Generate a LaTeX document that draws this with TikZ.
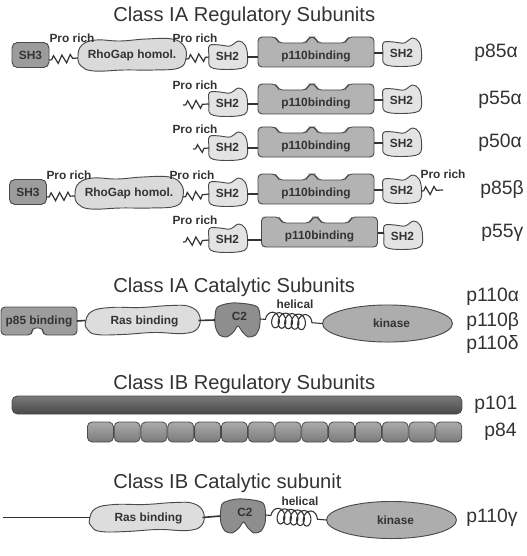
\documentclass[tikz,border=0pt]{standalone}
\usepackage{fontspec}
\setmainfont{Liberation Sans}
\usetikzlibrary{decorations.pathmorphing,shapes.geometric}

\definecolor{txt}{HTML}{333333}
\definecolor{edge}{HTML}{4A4A4A}
\definecolor{lnk}{HTML}{333333}
\definecolor{shthreecol}{HTML}{9C9C9C}
\definecolor{rhocol}{HTML}{DADADA}
\definecolor{shtwocol}{HTML}{E3E3E3}
\definecolor{pbcol}{HTML}{B3B3B3}
\definecolor{pebcol}{HTML}{9D9D9D}
\definecolor{rascol}{HTML}{DDDDDD}
\definecolor{ctwocol}{HTML}{8E8E8E}
\definecolor{kincol}{HTML}{ADADAD}

\tikzset{
 dom/.style={draw=edge, line width=0.7pt},
 dtext/.style={font=\fontsize{8.9}{10}\selectfont\bfseries, text=txt, inner sep=0pt},
 titletext/.style={font=\fontsize{15.1}{18}\selectfont, text=txt, inner sep=0pt, anchor=base west},
 plabel/.style={font=\fontsize{14.5}{17}\selectfont, text=txt, inner sep=0pt, anchor=west},
 link/.style={draw=lnk, line width=1.2pt},
 prolink/.style={draw=lnk, line width=0.9pt, decorate, decoration={zigzag, amplitude=3pt, segment length=6.3pt, pre length=2pt, post length=2pt}},
 helix/.style={draw=lnk, line width=0.8pt, decorate, decoration={coil, amplitude=5.8pt, segment length=4.9pt, aspect=0.7, pre length=4pt, post length=4pt}},
 bar/.style={draw=edge, line width=0.6pt, rounded corners=4pt},
 pics/shthree/.style={code={
   \draw[dom, fill=shthreecol, rounded corners=4pt] (-18.5,-12.5) rectangle (18.5,12.5);
   \node[dtext] (-t) {SH3};
   \coordinate (-w) at (-18.5,0);
   \coordinate (-e) at (18.5,5);
 }},
 pics/rhogap/.style={code={
   \draw[dom, fill=rhocol] plot[smooth cycle, tension=0.7] coordinates {(-54,1) (-50,-10) (-36,-15) (-12,-14) (14,-16) (40,-16) (52,-9) (54,3) (47,13) (22,15) (-8,15) (-38,16) (-51,11)};
   \node[dtext] (-t) {RhoGap homol.};
   \coordinate (-w) at (-54,3);
   \coordinate (-e) at (54,4);
 }},
 pics/shtwo/.style={code={
   \draw[dom, fill=shtwocol] plot[smooth cycle, tension=0.6] coordinates {(-18,-9.5) (-7.5,-10) (2.5,-9) (11,-14) (17.5,-10) (20,0.5) (17.5,12) (-1,14.5) (-17,12) (-18.5,1)};
   \node[dtext] (-t) at (0,1) {SH2};
   \coordinate (-w) at (-18.5,2);
   \coordinate (-e) at (19.5,2);
 }},
 pics/pbind/.style={code={
   \draw[dom, fill=pbcol, rounded corners=3pt] (0,15) -- (-58,15) -- (-58,-15) -- (-40,-15) -- (-37.5,-9) -- (-9.5,-9) -- (-7,-15) -- (-1,-15) -- (1.5,-9) -- (29.5,-9) -- (32,-15) -- (58,-15) -- (58,15) -- cycle;
   \node[dtext] (-t) at (0,4) {p110binding};
   \coordinate (-w) at (-58,0);
   \coordinate (-e) at (58,1);
 }},
 pics/pebind/.style={code={
   \draw[dom, fill=pebcol, rounded corners=3pt] (0,-14) -- (38,-14) -- (38,14) -- (4,14) -- (4,7) -- (-7,7) -- (-7,14) -- (-38,14) -- (-38,-14) -- cycle;
   \node[dtext] (-t) at (0,0) {p85 binding};
   \coordinate (-w) at (-38,0);
   \coordinate (-e) at (38,0);
 }},
 pics/ras/.style={code={
   \draw[dom, fill=rascol] plot[smooth cycle, tension=0.7] coordinates {(-57,2) (-51,-9) (-32,-13) (-2,-13) (28,-15) (47,-14) (57,-5) (55,8) (41,13) (12,12) (-20,14) (-46,14) (-55,9)};
   \node[dtext] (-t) at (2,1) {Ras binding};
   \coordinate (-w) at (-57,0);
   \coordinate (-e) at (56,0);
 }},
 pics/ctwo/.style={code={
   \draw[dom, fill=ctwocol] plot[smooth cycle, tension=0.5] coordinates {(-20,-13) (-6,-17) (10,-16) (20,-13) (22.5,-4) (22,7) (18,15) (11,17) (5,12) (0.5,6) (-4,12) (-11,17) (-18,15) (-22,7) (-22.5,-3)};
   \node[dtext] (-t) at (2,-4) {C2};
   \coordinate (-w) at (-22.5,0);
   \coordinate (-e) at (22.5,-1);
 }},
 pics/kinase/.style={code={
   \draw[dom, fill=kincol] (0,0) ellipse [x radius=48.75pt, y radius=13.9pt];
   \node[dtext] (-t) at (4,0) {kinase};
   \coordinate (-w) at (-65,0);
 }},
}

\begin{document}
\begin{tikzpicture}[x=0.75pt, y=-0.75pt]
\fill[white] (0,0) rectangle (527,556);
\useasboundingbox (0,0) rectangle (527,556);

% ---------- Class IA regulatory ----------
\node[titletext] (tA) at (113,22) {Class IA Regulatory Subunits};

% row 1 p85alpha
\pic (aSHthree) at (30.5,55) {shthree};
\pic (aRho) at (132,55) {rhogap};
\pic (aSHtwoL) at (227.5,55) {shtwo};
\pic (aBind) at (316,52) {pbind};
\pic (aSHtwoR) at (401.5,52) {shtwo};
\node[dtext] (aProA) at (72,38) {Pro rich};
\node[dtext] (aProB) at (195,38) {Pro rich};
\node[plabel] (aName) at (474,53) {p85α};
\draw[prolink] (aSHthree-e) -- (aRho-w);
\draw[prolink] (aRho-e) -- (aSHtwoL-w);
\draw[link] (aSHtwoL-e) -- (aSHtwoL-e -| aBind-w);
\draw[link] (aBind-e) -- (aBind-e -| aSHtwoR-w);

% row 2 p55alpha
\coordinate (bFree) at (183,105);
\pic (bSHtwoL) at (227.5,102) {shtwo};
\pic (bBind) at (316,99) {pbind};
\pic (bSHtwoR) at (401.5,99) {shtwo};
\node[dtext] (bPro) at (195,85) {Pro rich};
\node[plabel] (bName) at (478,100) {p55α};
\draw[prolink] (bFree) -- (bSHtwoL-w);
\draw[link] (bSHtwoL-e) -- (bSHtwoL-e -| bBind-w);
\draw[link] (bBind-e) -- (bBind-e -| bSHtwoR-w);

% row 3 p50alpha
\coordinate (cFree) at (193,149);
\pic (cSHtwoL) at (227.5,146) {shtwo};
\pic (cBind) at (316,142) {pbind};
\pic (cSHtwoR) at (401.5,142) {shtwo};
\node[dtext] (cPro) at (195,129) {Pro rich};
\node[plabel] (cName) at (478,143) {p50α};
\draw[prolink] (cFree) -- (cSHtwoL-w);
\draw[link] (cSHtwoL-e) -- (cSHtwoL-e -| cBind-w);
\draw[link] (cBind-e) -- (cBind-e -| cSHtwoR-w);

% row 4 p85beta
\pic (dSHthree) at (28,192) {shthree};
\pic (dRho) at (129,193) {rhogap};
\pic (dSHtwoL) at (227.5,192) {shtwo};
\pic (dBind) at (316,189) {pbind};
\pic (dSHtwoR) at (401.5,189) {shtwo};
\coordinate (dFree) at (443,190);
\node[dtext] (dProA) at (69,175) {Pro rich};
\node[dtext] (dProB) at (192,175) {Pro rich};
\node[dtext] (dProC) at (443,174) {Pro rich};
\node[plabel] (dName) at (480,190) {p85β};
\draw[prolink] (dSHthree-e) -- (dRho-w);
\draw[prolink] (dRho-e) -- (dSHtwoL-w);
\draw[link] (dSHtwoL-e) -- (dSHtwoL-e -| dBind-w);
\draw[link] (dBind-e) -- (dBind-e -| dSHtwoR-w);
\draw[prolink] (dSHtwoR-e) -- (dFree);

% row 5 p55gamma
\coordinate (eFree) at (183,242);
\pic (eSHtwoL) at (227.5,238) {shtwo};
\pic (eBind) at (319.5,232) {pbind};
\pic (eSHtwoR) at (402.5,235) {shtwo};
\node[dtext] (ePro) at (195,220) {Pro rich};
\node[plabel] (eName) at (481,233) {p55γ};
\draw[prolink] (eFree) -- (eSHtwoL-w);
\draw[link] (eSHtwoL-e) -- (eSHtwoL-e -| eBind-w);
\draw[link] (eBind-e) -- (eBind-e -| eSHtwoR-w);

% ---------- Class IA catalytic ----------
\node[titletext] (tB) at (113,292) {Class IA Catalytic Subunits};
\pic (fPeb) at (39,321) {pebind};
\pic (fRas) at (142.5,320.5) {ras};
\pic (fCtwo) at (237.5,320) {ctwo};
\pic (fKin) at (387.5,323.5) {kinase};
\node[dtext] (fHel) at (295,304) {helical};
\draw[link] (fPeb-e) -- (fRas-w);
\draw[link] (fRas-e) -- (fCtwo-w);
\draw[helix] (fCtwo-e) -- (fKin-w);
\node[plabel] (fNameA) at (466,297) {p110α};
\node[plabel] (fNameB) at (466,321) {p110β};
\node[plabel] (fNameD) at (466,344) {p110δ};

% ---------- Class IB regulatory ----------
\node[titletext] (tC) at (113,389) {Class IB Regulatory Subunits};
\shade[bar, top color=black!52, middle color=black!60, bottom color=black!72] (12,396) rectangle (462,414);
\node[plabel] (gName) at (474,405) {p101};
\foreach \i in {0,...,13}{
  \pgfmathsetmacro{\xa}{87+\i*26.8+0.4}
  \pgfmathsetmacro{\xb}{87+(\i+1)*26.8-0.4}
  \shade[bar, rounded corners=3.5pt, top color=black!33, middle color=black!40, bottom color=black!52] (\xa,422) rectangle (\xb,442);
}
\node[plabel] (hName) at (484,432) {p84};

% ---------- Class IB catalytic ----------
\node[titletext] (tD) at (113,488) {Class IB Catalytic subunit};
\coordinate (iFree) at (3,517.5);
\pic (iRas) at (146.5,517.5) {ras};
\pic (iCtwo) at (243,516) {ctwo};
\pic (iKin) at (391.5,520) {kinase};
\node[dtext] (iHel) at (300,501) {helical};
\draw[link] (iFree) -- (iRas-w);
\draw[link] (iRas-e) -- (iCtwo-w);
\draw[helix] (iCtwo-e) -- (iKin-w);
\node[plabel] (iName) at (466,518) {p110γ};
\end{tikzpicture}
\end{document}
